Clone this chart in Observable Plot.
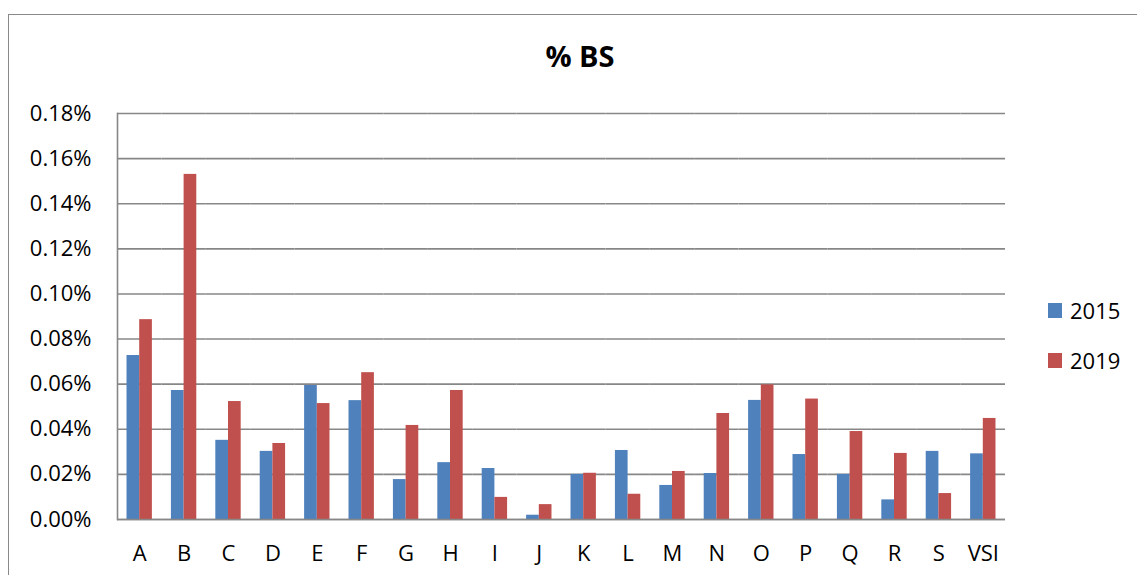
<!DOCTYPE html>
<html>
<head>
<meta charset="utf-8">
<script src="https://cdn.jsdelivr.net/npm/d3@7"></script>
<script src="https://cdn.jsdelivr.net/npm/@observablehq/plot@0.6"></script>
<style>
  html, body { margin: 0; padding: 0; background: #fff; }
  #wrap { position: relative; width: 1137px; height: 575px; overflow: hidden; font-family: "Open Sans", sans-serif; color: #000; }
  #border { position: absolute; left: 8px; top: 14px; width: 1200px; height: 700px; border-left: 1.5px solid #898989; border-top: 1.5px solid #898989; box-sizing: border-box; }
  #title { position: relative; height: 90px; }
  #title span { position: absolute; left: 580px; top: 41px; transform: translateX(-50%); font-weight: bold; font-size: 29px; line-height: 29px; white-space: nowrap; }
  #chart { position: relative; height: 485px; }
  #legend { position: absolute; left: 1048px; top: 0; }
  .item { position: absolute; left: 0; white-space: nowrap; font-size: 22px; line-height: 22px; }
  .sw { position: absolute; left: 0; width: 14px; height: 15px; }
  .lab { position: absolute; left: 22px; }
</style>
</head>
<body>
<div id="wrap">
  <div id="border"></div>
  <div id="title"><span>% BS</span></div>
  <div id="chart"></div>
  <div id="legend"></div>
</div>
<script>
const categories = ["A","B","C","D","E","F","G","H","I","J","K","L","M","N","O","P","Q","R","S","VSI"];
const series = ["2015", "2019"];
const values2015 = [0.0727, 0.0572, 0.0351, 0.0302, 0.0594, 0.0527, 0.0177, 0.0252, 0.0226, 0.0019, 0.0200, 0.0306, 0.0151, 0.0204, 0.0528, 0.0288, 0.0200, 0.0087, 0.0302, 0.0291];
const values2019 = [0.0886, 0.1530, 0.0523, 0.0337, 0.0514, 0.0651, 0.0417, 0.0572, 0.0098, 0.0066, 0.0205, 0.0112, 0.0213, 0.0470, 0.0597, 0.0534, 0.0390, 0.0293, 0.0115, 0.0448];
const yTicks = [0, 0.02, 0.04, 0.06, 0.08, 0.10, 0.12, 0.14, 0.16, 0.18];
const colors = ["#4F81BD", "#C0504D"];

const data = [];
categories.forEach((c, i) => {
  data.push({cat: c, year: series[0], value: values2015[i]});
  data.push({cat: c, year: series[1], value: values2019[i]});
});

const gridColor = "#878787";

const chart = Plot.plot({
  width: 1137,
  height: 485,
  marginLeft: 117,
  marginRight: 132,
  marginTop: 23,
  marginBottom: 56,
  style: {fontFamily: "'Open Sans', sans-serif", fontSize: "22px", color: "#000", background: "transparent", overflow: "visible"},
  fx: {domain: categories, padding: 0, round: false, label: null},
  x: {domain: series, paddingInner: 0, paddingOuter: 0.75, round: false, axis: null},
  y: {domain: [0, 0.18], label: null},
  color: {domain: series, range: colors},
  marks: [
    Plot.gridY(yTicks, {stroke: gridColor, strokeOpacity: 1, strokeWidth: 1.6}),
    Plot.barY(data, {fx: "cat", x: "year", y: "value", fill: "year", inset: 0}),
    Plot.ruleY([0], {stroke: gridColor, strokeWidth: 1.6}),
    Plot.frame({anchor: "left", facetAnchor: "left", stroke: gridColor, strokeWidth: 1.6}),
    Plot.axisY({ticks: yTicks, tickSize: 0, tickPadding: 26, fontSize: 22, label: null, tickFormat: d => d3.format(".2f")(d) + "%"}),
    Plot.axisFx({anchor: "bottom", tickSize: 0, tickPadding: 26, fontSize: 22, label: null})
  ]
});
document.getElementById("chart").appendChild(chart);

const legend = document.getElementById("legend");
series.forEach((s, i) => {
  const item = document.createElement("div");
  item.className = "item";
  item.style.top = (303 + i * 50) + "px";
  const sw = document.createElement("div");
  sw.className = "sw";
  sw.style.background = colors[i];
  const lab = document.createElement("span");
  lab.className = "lab";
  lab.style.top = "-4px";
  lab.textContent = s;
  item.appendChild(sw);
  item.appendChild(lab);
  legend.appendChild(item);
});
</script>
</body>
</html>
